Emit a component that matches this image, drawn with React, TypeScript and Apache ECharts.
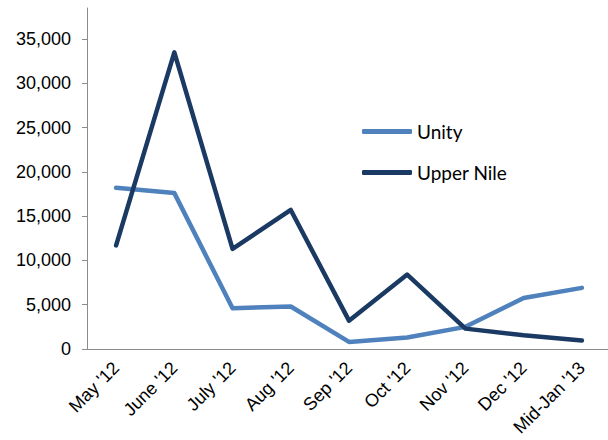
import React, { useEffect, useRef } from "react";
import * as echarts from "echarts";

const categories = ["May '12", "June '12", "July '12", "Aug '12", "Sep '12", "Oct '12", "Nov '12", "Dec '12", "Mid-Jan '13"];
const unity = [18200, 17600, 4600, 4800, 800, 1300, 2500, 5750, 6900];
const upperNile = [11700, 33500, 11300, 15700, 3200, 8400, 2300, 1550, 950];
const yTicks = [0, 5000, 10000, 15000, 20000, 25000, 30000, 35000];

export default function App() {
  const ref = useRef<HTMLDivElement>(null);
  useEffect(() => {
    const chart = echarts.init(ref.current!, null, { renderer: "svg" });
    const axisColor = "#8c8c8c";
    chart.setOption({
      animation: false,
      grid: { left: 87, top: 8, height: 341, width: 524, outerBoundsMode: "none", containLabel: false },
      legend: {
        orient: "vertical",
        left: 357,
        top: 116,
        itemWidth: 50,
        itemHeight: 5,
        itemGap: 20,
        icon: "roundRect",
        textStyle: { fontFamily: "Lato", fontSize: 19, color: "#000", lineHeight: 21 },
        data: ["Unity", "Upper Nile"],
      },
      xAxis: {
        type: "category",
        data: categories,
        boundaryGap: true,
        axisLine: { lineStyle: { color: axisColor, width: 1 } },
        axisTick: { length: 5, lineStyle: { color: axisColor } },
        axisLabel: {
          rotate: 45,
          margin: 16,
          interval: 0,
          hideOverlap: false,
          fontFamily: "'Liberation Sans', Arial, sans-serif",
          fontSize: 18,
          color: "#000",
        },
        splitLine: { show: false },
      },
      yAxis: {
        type: "value",
        min: 0,
        max: 38500,
        interval: 5000,
        axisLine: { show: true, lineStyle: { color: axisColor, width: 1 } },
        axisTick: { show: true, length: 5, customValues: yTicks, lineStyle: { color: axisColor } },
        axisLabel: {
          customValues: yTicks,
          margin: 16,
          fontFamily: "'Liberation Sans', Arial, sans-serif",
          fontSize: 18,
          color: "#000",
          formatter: (v: number) => v.toLocaleString("en-US"),
        },
        splitLine: { show: false },
      },
      series: [
        {
          name: "Unity",
          type: "line",
          data: unity,
          symbol: "none",
          itemStyle: { color: "#4F81BD" },
          lineStyle: { color: "#4F81BD", width: 4.5, cap: "round", join: "round" },
        },
        {
          name: "Upper Nile",
          type: "line",
          data: upperNile,
          symbol: "none",
          itemStyle: { color: "#1B3A63" },
          lineStyle: { color: "#1B3A63", width: 4.5, cap: "round", join: "round" },
        },
      ],
    });
    return () => chart.dispose();
  }, []);
  return (
    <div
      ref={ref}
      style={{ position: "absolute", left: 0, top: 0, width: 608, height: 440, background: "#fff" }}
    />
  );
}
